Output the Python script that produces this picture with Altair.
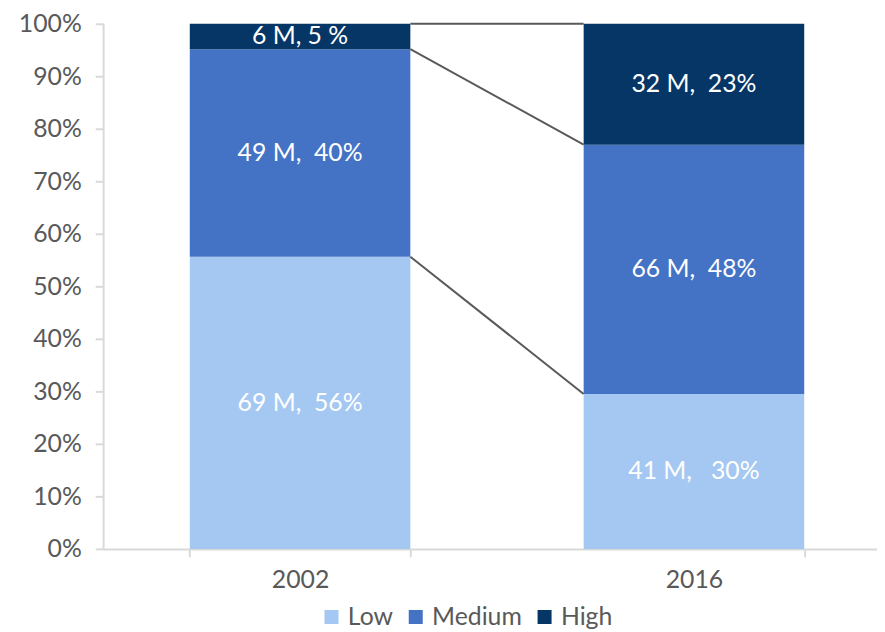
import altair as alt
import pandas as pd

years = ["2002", "2016"]
levels = ["Low", "Medium", "High"]
low_m = [69, 41]
medium_m = [49, 66]
high_m = [6, 32]
NB = "\u00a0"
labels_low = ["69 M," + NB * 2 + "56%", "41 M," + NB * 3 + "30%"]
labels_medium = ["49 M," + NB * 2 + "40%", "66 M," + NB * 2 + "48%"]
labels_high = ["6 M, 5" + NB + "%", "32 M," + NB * 2 + "23%"]
colors = ["#a5c8f2", "#4472c4", "#063666"]

FONT = "Lato"
GREY = "#595959"
FS = 25

rows = []
for i, y in enumerate(years):
    for k, (lvl, vals, labs) in enumerate(zip(levels, [low_m, medium_m, high_m],
                                               [labels_low, labels_medium, labels_high])):
        rows.append({"year": y, "level": lvl, "order": k, "value": vals[i], "label": labs[i]})
df = pd.DataFrame(rows)

# connector lines between cumulative boundaries of the two bars
def cum_shares(i):
    tot = low_m[i] + medium_m[i] + high_m[i]
    return [low_m[i] / tot, (low_m[i] + medium_m[i]) / tot, 1.0]

c0, c1 = cum_shares(0), cum_shares(1)
conn = pd.DataFrame({"from": [years[0]] * 3, "to": [years[1]] * 3,
                     "y_from": c0, "y_to": c1})

xscale = alt.Scale(domain=years, paddingInner=0.44, paddingOuter=0.22, range=[0, 795])

base = alt.Chart(df).transform_stack(
    stack="value", groupby=["year"], sort=[alt.SortField("order", "ascending")],
    as_=["y0", "y1"], offset="normalize")

bars = base.mark_bar().encode(
    x=alt.X("year:N", scale=xscale, title=None,
            axis=alt.Axis(labelAngle=0, labelFontSize=FS, labelFont=FONT, labelColor=GREY,
                          labelFontWeight=400, domainColor="#d9d9d9", domainWidth=2,
                          tickColor="#d9d9d9", tickWidth=2, tickSize=8, tickBand="extent",
                          labelPadding=11)),
    y=alt.Y("y0:Q", scale=alt.Scale(domain=[0, 1], nice=False), title=None,
            axis=alt.Axis(values=[i / 10 for i in range(11)], format=".0%", grid=False,
                          labelFontSize=FS, labelFont=FONT, labelColor=GREY, labelFontWeight=400,
                          domainColor="#d9d9d9", domainWidth=2, tickColor="#d9d9d9",
                          tickWidth=2, tickSize=8, labelPadding=14)),
    y2="y1:Q",
    color=alt.Color("level:N", scale=alt.Scale(domain=levels, range=colors),
                    legend=alt.Legend(orient="none", legendX=218, legendY=586,
                                      direction="horizontal", title=None,
                                      symbolType="square", symbolSize=200, symbolStrokeWidth=0,
                                      labelFontSize=FS, labelFont=FONT, labelColor=GREY,
                                      labelFontWeight=400, columnPadding=10,
                                      labelOffset=4)),
    order=alt.Order("order:Q"),
)

text = base.transform_calculate(mid="(datum.y0 + datum.y1) / 2").mark_text(
    color="white", fontSize=FS, font=FONT, fontWeight=400
).encode(
    x=alt.X("year:N", scale=xscale),
    y=alt.Y("mid:Q"),
    text="label:N",
)

rules = alt.Chart(conn).mark_rule(color=GREY, strokeWidth=2).encode(
    x=alt.X("from:N", bandPosition=1, scale=xscale),
    x2=alt.X2("to:N", bandPosition=0),
    y="y_from:Q",
    y2="y_to:Q",
)

chart = alt.layer(bars, rules, text).properties(
    width=781, height=530,
    padding={"left": 96, "top": 13, "right": 0, "bottom": 81},
    autosize=alt.AutoSizeParams(type="none"),
).configure_view(stroke=None)

chart.save("out.html", embed_options={"renderer": "svg", "actions": False})
